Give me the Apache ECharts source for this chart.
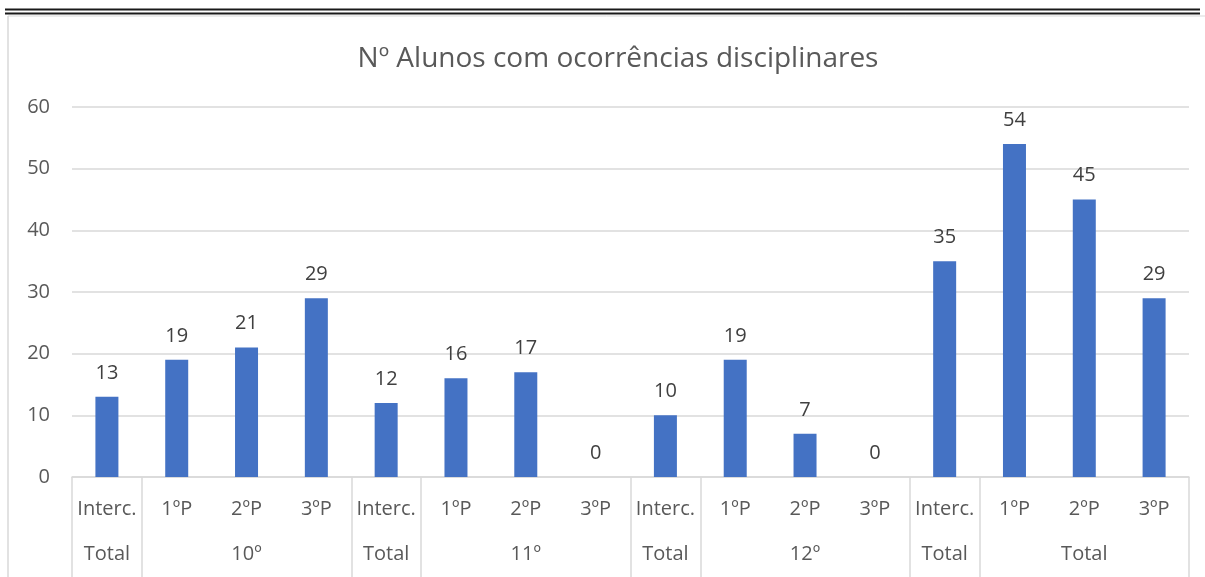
<!DOCTYPE html>
<html>
<head>
<meta charset="utf-8">
<script src="https://cdn.jsdelivr.net/npm/echarts@6/dist/echarts.min.js"></script>
<style>
  html, body { margin: 0; padding: 0; background: #fff; }
  #chart { width: 1205px; height: 577px; }
</style>
</head>
<body>
<div id="chart"></div>
<script>
// categories (first level) and their groups (second level, label on the middle category)
var periods = ['Interc.', '1ºP', '2ºP', '3ºP', 'Interc.', '1ºP', '2ºP', '3ºP',
               'Interc.', '1ºP', '2ºP', '3ºP', 'Interc.', '1ºP', '2ºP', '3ºP'];
var groups = ['Total', '', '10º', '', 'Total', '', '11º', '',
              'Total', '', '12º', '', 'Total', '', 'Total', ''];
// boundaries where a separator is drawn below the axis
var separators = [0, 1, 4, 5, 8, 9, 12, 13];
var alunos = [13, 19, 21, 29, 12, 16, 17, 0, 10, 19, 7, 0, 35, 54, 45, 29];
var yTicks = { min: 0, max: 60, interval: 10 };

var font = 'Open Sans';

var chart = echarts.init(document.getElementById('chart'));
chart.setOption({
  animation: false,
  title: {
    text: 'Nº Alunos com ocorrências disciplinares',
    left: 'center',
    top: 40,
    left: 613,
    textAlign: 'center',
    textStyle: { fontFamily: font, fontSize: 28, fontWeight: 'normal', color: '#595959' }
  },
  grid: { left: 72, right: 16, top: 107, bottom: 100 },
  xAxis: [{
    type: 'category',
    data: periods,
    axisLine: { lineStyle: { color: '#d9d9d9', width: 1.5 } },
    axisTick: {
      show: true,
      length: 100,
      interval: function (i) { return separators.indexOf(i) >= 0; },
      lineStyle: { color: '#d9d9d9', width: 1.5 }
    },
    axisLabel: { interval: 0, margin: 22, fontFamily: font, fontSize: 20, color: '#595959' }
  }, {
    type: 'category',
    data: groups,
    position: 'bottom',
    axisLine: { show: false },
    axisTick: { show: false },
    axisLabel: { interval: 0, margin: 67, fontFamily: font, fontSize: 20, color: '#595959' }
  }],
  yAxis: {
    type: 'value',
    min: yTicks.min,
    max: yTicks.max,
    interval: yTicks.interval,
    axisLine: { show: false },
    axisTick: { show: false },
    splitLine: { lineStyle: { color: '#d9d9d9', width: 1.5 } },
    axisLabel: { margin: 22, fontFamily: font, fontSize: 20, color: '#595959' }
  },
  series: [{
    type: 'bar',
    data: alunos,
    barWidth: 23,
    itemStyle: { color: '#4472c4' },
    label: {
      show: true,
      position: 'top',
      distance: 14,
      fontFamily: font,
      fontSize: 20,
      color: '#404040'
    }
  }],
  graphic: [
    { type: 'line', shape: { x1: 5, y1: 9.5, x2: 1200, y2: 9.5 }, style: { stroke: '#1a1a1a', lineWidth: 2 } },
    { type: 'line', shape: { x1: 5, y1: 13.5, x2: 1200, y2: 13.5 }, style: { stroke: '#1a1a1a', lineWidth: 2 } },
    { type: 'line', shape: { x1: 8, y1: 16, x2: 1205, y2: 16 }, style: { stroke: '#d9d9d9', lineWidth: 1 } },
    { type: 'line', shape: { x1: 8, y1: 16, x2: 8, y2: 577 }, style: { stroke: '#d9d9d9', lineWidth: 1.5 } }
  ]
});
</script>
</body>
</html>
